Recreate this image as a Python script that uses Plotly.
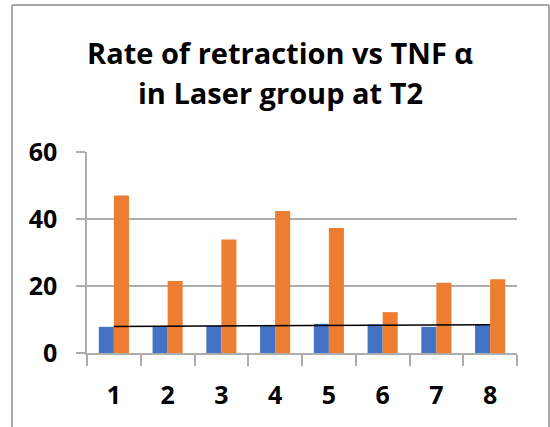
import numpy as np
import plotly.graph_objects as go

categories = ["1", "2", "3", "4", "5", "6", "7", "8"]
rate_of_retraction = [7.8, 8.0, 8.1, 8.0, 8.7, 8.5, 7.8, 8.6]
tnf_alpha = [47.0, 21.5, 33.9, 42.4, 37.3, 12.2, 21.0, 22.0]
y_ticks = [0, 20, 40, 60]
title_lines = ["Rate of retraction vs TNF α", "in Laser group at T2"]

BLUE = "#4472C4"
ORANGE = "#ED7D31"
GRID = "#ADADAD"
FONT = "Open Sans"

# linear trendline of the first series (as the spreadsheet adds it)
xi = np.arange(1, len(categories) + 1)
slope, intercept = np.polyfit(xi, rate_of_retraction, 1)
trend = slope * xi + intercept

fig = go.Figure()
fig.add_trace(go.Bar(x=categories, y=rate_of_retraction, marker=dict(color=BLUE, line=dict(width=0)),
                     name="Rate of retraction"))
fig.add_trace(go.Bar(x=categories, y=tnf_alpha, marker=dict(color=ORANGE, line=dict(width=0)),
                     name="TNF α"))
fig.add_trace(go.Scatter(x=[categories[0], categories[-1]], y=[trend[0], trend[-1]], mode="lines",
                         line=dict(color="#000000", width=1.5), name="Trend"))

L, R, T, B = 87, 33, 152, 74
W, H = 550, 427
pw, ph = W - L - R, H - T - B

def px(x):
    return (x - L) / pw

def py(y):
    return (H - B - y) / ph

fig.update_layout(
    width=W, height=H,
    margin=dict(l=L, r=R, t=T, b=B, pad=0),
    paper_bgcolor="white", plot_bgcolor="white",
    showlegend=False,
    barmode="group", bargap=0.44, bargroupgap=0,
    font=dict(family=FONT, color="#000000"),
    xaxis=dict(type="category", showline=True, linecolor=GRID, linewidth=1.5,
               ticks="outside", tickson="boundaries", ticklen=11, tickcolor=GRID, tickwidth=1.5,
               showgrid=False, tickfont=dict(family=FONT, size=25, color="#000000", weight="bold"),
               ticklabelstandoff=19),
    yaxis=dict(range=[0, 60], tickvals=y_ticks, showline=True, linecolor=GRID, linewidth=1.5,
               showgrid=True, gridcolor=GRID, gridwidth=1.5, zeroline=False,
               ticks="outside", ticklen=9, tickcolor=GRID, tickwidth=1.5,
               tickfont=dict(family=FONT, size=25, color="#000000", weight="bold"),
               ticklabelstandoff=14),
)

for i, (txt, yc) in enumerate(zip(title_lines, [52, 92])):
    fig.add_annotation(text=txt, xref="paper", yref="paper", x=px(280), y=py(yc),
                       xanchor="center", yanchor="middle", showarrow=False,
                       font=dict(family=FONT, size=29, color="#000000", weight="bold"))

# chart frame
frame = dict(color="#A8A8A8", width=2)
x0, x1, y0, y1 = px(12), px(549), py(5), py(440)
fig.add_shape(type="line", xref="paper", yref="paper", x0=x0, x1=x0, y0=y1, y1=y0, line=frame)
fig.add_shape(type="line", xref="paper", yref="paper", x0=x0, x1=x1, y0=y0, y1=y0, line=frame)
fig.add_shape(type="line", xref="paper", yref="paper", x0=x1, x1=x1, y0=y1, y1=y0, line=frame)

fig.write_html("out.html", config={"displayModeBar": False},
               post_script="document.body.style.margin='0';document.body.style.overflow='hidden';")
